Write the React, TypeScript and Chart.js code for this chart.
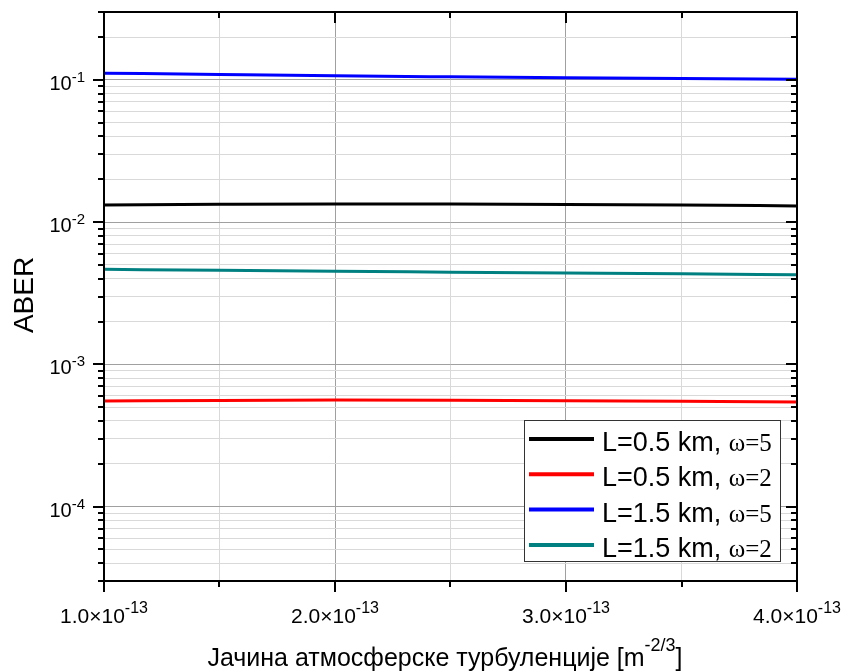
import React, { useEffect, useRef } from 'react';
import { Chart, registerables } from 'chart.js';

Chart.register(...registerables);

// Turbulence strength Cn² [m^-2/3]
const turbulence = [1.0e-13, 1.5e-13, 2.0e-13, 2.5e-13, 3.0e-13, 3.5e-13, 4.0e-13];

// Average BER for each link length / omega pair
const aberL05w5 = [0.01321, 0.01335, 0.01343, 0.0134, 0.01332, 0.01318, 0.013];
const aberL05w2 = [0.000552, 0.000558, 0.000561, 0.00056, 0.000556, 0.00055, 0.000543];
const aberL15w5 = [0.1115, 0.109, 0.1067, 0.105, 0.1035, 0.1022, 0.1011];
const aberL15w2 = [0.00466, 0.00458, 0.00451, 0.00445, 0.00439, 0.00433, 0.00426];

const seriesNames = ['L=0.5 km, ', 'L=0.5 km, ', 'L=1.5 km, ', 'L=1.5 km, '];
const seriesOmega = ['ω=5', 'ω=2', 'ω=5', 'ω=2'];
const seriesColors = ['#000000', '#ff0000', '#0000ff', '#008080'];

const xTickValues = [1e-13, 2e-13, 3e-13, 4e-13];
const xTickMantissas = ['1.0', '2.0', '3.0', '4.0'];
const xTickExponent = '-13';
const xMinorValues = [1.5e-13, 2.5e-13, 3.5e-13];
const yDecadeExponents = [-4, -3, -2, -1];

const X_MIN = 1e-13;
const X_MAX = 4e-13;
const Y_MIN = 3e-5;
const Y_MAX = 0.3;

const SANS = "'Liberation Sans', Arial, sans-serif";
const SERIF = "'Liberation Serif', 'Times New Roman', serif";

const MAJOR_GRID = '#a0a0a0';
const MINOR_GRID = '#d9d9d9';

// Gridline positions of the log axis: 1..9 × 10^n inside the range
const yGridValues: number[] = [];
for (let e = -5; e <= 0; e++) {
  for (let m = 1; m <= 9; m++) {
    const v = m * Math.pow(10, e);
    if (v >= Y_MIN * 0.999 && v <= Y_MAX * 1.001) yGridValues.push(v);
  }
}
const xGridValues = [...xTickValues, ...xMinorValues].sort((a, b) => a - b);

const isMajorX = (v: number) => xTickValues.some((t) => Math.abs(t - v) < 1e-16);
const isMajorY = (v: number) => Math.abs(Math.log10(v) - Math.round(Math.log10(v))) < 1e-6;

type Seg = { text: string; font: string; dy?: number };

function drawRich(ctx: CanvasRenderingContext2D, segs: Seg[], x: number, baseline: number, align: 'left' | 'center' | 'right') {
  const widths = segs.map((s) => {
    ctx.font = s.font;
    return ctx.measureText(s.text).width;
  });
  const total = widths.reduce((a, b) => a + b, 0);
  let cx = align === 'left' ? x : align === 'center' ? x - total / 2 : x - total;
  ctx.textAlign = 'left';
  ctx.textBaseline = 'alphabetic';
  segs.forEach((s, i) => {
    ctx.font = s.font;
    ctx.fillText(s.text, cx, baseline + (s.dy || 0));
    cx += widths[i];
  });
  return total;
}

const framePlugin = {
  id: 'frame',
  afterDraw(chart: any) {
    const { ctx, chartArea: a, scales } = chart;
    const xs = scales.x;
    const ys = scales.y;
    ctx.save();
    ctx.strokeStyle = '#000';
    ctx.fillStyle = '#000';
    ctx.lineWidth = 2;

    const seg = (x1: number, y1: number, x2: number, y2: number) => {
      ctx.beginPath();
      ctx.moveTo(x1, y1);
      ctx.lineTo(x2, y2);
      ctx.stroke();
    };

    // axis box
    ctx.strokeRect(a.left, a.top, a.right - a.left, a.bottom - a.top);

    // x tick marks: outward at bottom, inward at top
    xs.ticks.forEach((t: any) => {
      const px = Math.round(xs.getPixelForValue(t.value));
      const len = isMajorX(t.value) ? 11 : 6;
      seg(px, a.bottom, px, a.bottom + len);
      seg(px, a.top, px, a.top + len);
    });
    // y tick marks: outward at left, inward at right
    ys.ticks.forEach((t: any) => {
      const py = Math.round(ys.getPixelForValue(t.value));
      const len = isMajorY(t.value) ? 11 : 6;
      seg(a.left - len, py, a.left, py);
      seg(a.right - len, py, a.right, py);
    });

    // y tick labels
    yDecadeExponents.forEach((e) => {
      const py = ys.getPixelForValue(Math.pow(10, e));
      drawRich(
        ctx,
        [
          { text: '10', font: `20px ${SANS}` },
          { text: String(e), font: `15px ${SANS}`, dy: -8 },
        ],
        85,
        py + 10,
        'right'
      );
    });

    // x tick labels
    xTickValues.forEach((v, i) => {
      const px = xs.getPixelForValue(v);
      drawRich(
        ctx,
        [
          { text: `${xTickMantissas[i]}×10`, font: `21px ${SANS}` },
          { text: xTickExponent, font: `16px ${SANS}`, dy: -10 },
        ],
        px,
        623,
        'center'
      );
    });

    // x axis title
    drawRich(
      ctx,
      [
        { text: 'Јачина атмосферске турбуленције [m', font: `25px ${SANS}` },
        { text: '-2/3', font: `18px ${SANS}`, dy: -15 },
        { text: ']', font: `25px ${SANS}` },
      ],
      445,
      666,
      'center'
    );

    // y axis title
    ctx.save();
    ctx.translate(33, 295);
    ctx.rotate(-Math.PI / 2);
    ctx.font = `28px ${SANS}`;
    ctx.textAlign = 'center';
    ctx.textBaseline = 'alphabetic';
    ctx.fillText('ABER', 0, 0);
    ctx.restore();

    // legend
    const lx = 524.5;
    const ly = 420.5;
    const lw = 256;
    const lh = 141;
    ctx.fillStyle = '#fff';
    ctx.fillRect(lx, ly, lw, lh);
    ctx.strokeStyle = '#333';
    ctx.lineWidth = 1;
    ctx.strokeRect(lx, ly, lw, lh);
    seriesNames.forEach((name, i) => {
      const rowY = 439 + i * 35.3;
      ctx.strokeStyle = seriesColors[i];
      ctx.lineWidth = 4;
      seg(529, rowY, 594, rowY);
      ctx.fillStyle = '#000';
      ctx.font = `27px ${SANS}`;
      ctx.textAlign = 'left';
      ctx.textBaseline = 'alphabetic';
      ctx.fillText(name, 602, rowY + 12);
      const w = ctx.measureText(name).width;
      ctx.font = `25px ${SERIF}`;
      ctx.fillText(seriesOmega[i], 602 + w, rowY + 12);
    });

    ctx.restore();
  },
};

export default function App() {
  const canvasRef = useRef<HTMLCanvasElement>(null);

  useEffect(() => {
    const canvas = canvasRef.current;
    if (!canvas) return;
    const series = [aberL05w5, aberL05w2, aberL15w5, aberL15w2];
    const gridColor = (c: any, major: (v: number) => boolean) =>
      c.tick && major(c.tick.value) ? MAJOR_GRID : MINOR_GRID;

    const chart = new Chart(canvas, {
      type: 'line',
      data: {
        datasets: series.map((vals, i) => ({
          label: seriesNames[i] + seriesOmega[i],
          data: turbulence.map((x, j) => ({ x, y: vals[j] })),
          borderColor: seriesColors[i],
          backgroundColor: seriesColors[i],
          borderWidth: 3,
          pointRadius: 0,
          cubicInterpolationMode: 'monotone' as const,
          fill: false,
        })),
      },
      options: {
        responsive: false,
        animation: false,
        devicePixelRatio: 1,
        layout: { padding: { top: 12, right: 48, left: 0, bottom: 0 } },
        plugins: {
          legend: { display: false },
          tooltip: { enabled: false },
        },
        scales: {
          x: {
            type: 'linear',
            min: X_MIN,
            max: X_MAX,
            afterBuildTicks: (s: any) => {
              s.ticks = xGridValues.map((value) => ({ value }));
            },
            afterFit: (s: any) => {
              s.height = 90;
            },
            ticks: { display: false, autoSkip: false },
            grid: {
              drawTicks: false,
              lineWidth: 1,
              color: (c: any) => gridColor(c, isMajorX),
            },
            border: { display: false },
          },
          y: {
            type: 'logarithmic',
            min: Y_MIN,
            max: Y_MAX,
            afterBuildTicks: (s: any) => {
              s.ticks = yGridValues.map((value) => ({ value }));
            },
            afterFit: (s: any) => {
              s.width = 104;
            },
            ticks: { display: false, autoSkip: false },
            grid: {
              drawTicks: false,
              lineWidth: 1,
              color: (c: any) => gridColor(c, isMajorY),
            },
            border: { display: false },
          },
        },
      },
      plugins: [framePlugin],
    });
    return () => chart.destroy();
  }, []);

  return (
    <div style={{ position: 'absolute', left: 0, top: 0, width: 845, height: 671, background: '#fff' }}>
      <canvas ref={canvasRef} width={845} height={671} style={{ display: 'block', width: 845, height: 671 }} />
    </div>
  );
}
